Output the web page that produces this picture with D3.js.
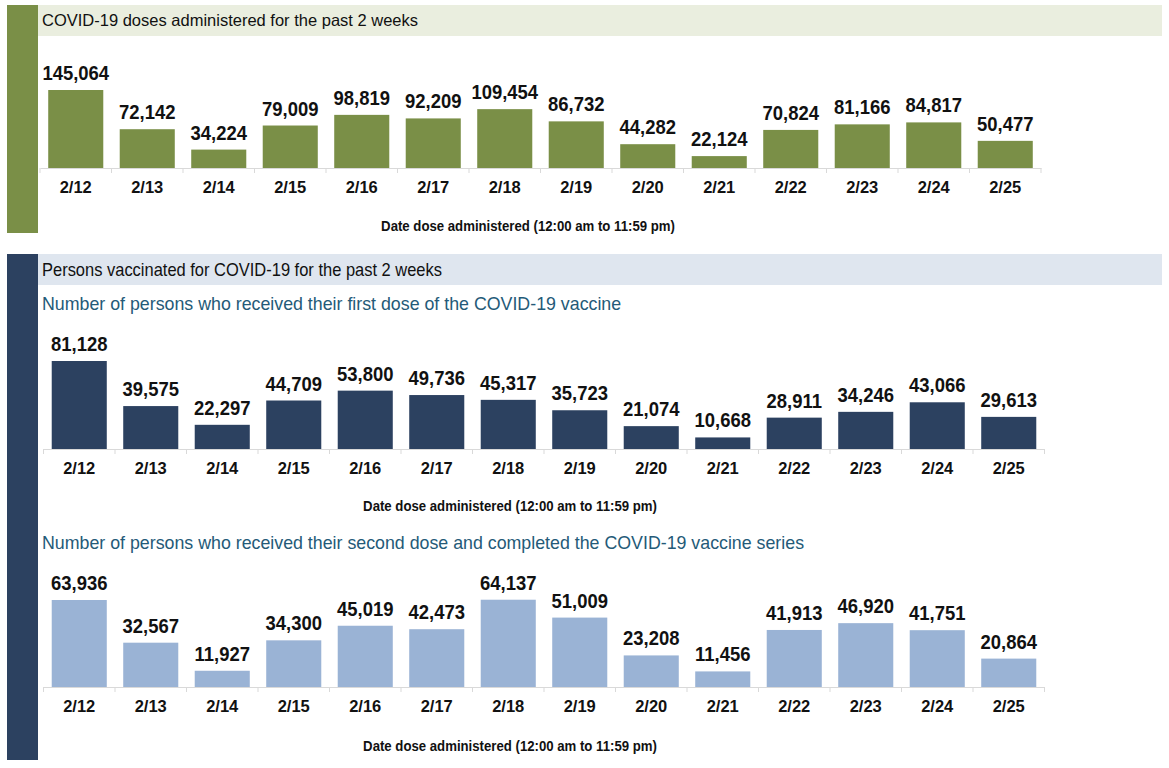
<!DOCTYPE html>
<html><head><meta charset="utf-8">
<script src="https://cdnjs.cloudflare.com/ajax/libs/d3/7.8.5/d3.min.js"></script>
<style>
html,body{margin:0;padding:0;background:#fff;}
svg{display:block;}
</style></head>
<body>
<script>
const dates = ["2/12","2/13","2/14","2/15","2/16","2/17","2/18","2/19","2/20","2/21","2/22","2/23","2/24","2/25"];
const totalDoses = [145064,72142,34224,79009,98819,92209,109454,86732,44282,22124,70824,81166,84817,50477];
const firstDoses = [81128,39575,22297,44709,53800,49736,45317,35723,21074,10668,28911,34246,43066,29613];
const secondDoses = [63936,32567,11927,34300,45019,42473,64137,51009,23208,11456,41913,46920,41751,20864];
const header1 = "COVID-19 doses administered for the past 2 weeks";
const header2 = "Persons vaccinated for COVID-19 for the past 2 weeks";
const sub1 = "Number of persons who received their first dose of the COVID-19 vaccine";
const sub2 = "Number of persons who received their second dose and completed the COVID-19 vaccine series";
const axisTitle = "Date dose administered (12:00 am to 11:59 pm)";

const W = 1169, H = 768;
const svg = d3.select("body").append("svg").attr("width", W).attr("height", H);
const FONT = "Liberation Sans, Arial, sans-serif";

// Section bands and headers
svg.append("rect").attr("x",7).attr("y",5).attr("width",31).attr("height",228).attr("fill","#7a8f47");
svg.append("rect").attr("x",38).attr("y",5).attr("width",1124).attr("height",31).attr("fill","#eaeedf");
svg.append("text").attr("x",42).attr("y",26).text(header1)
  .attr("font-family",FONT).attr("font-size",16.5).attr("fill","#111");

svg.append("rect").attr("x",7).attr("y",254).attr("width",31).attr("height",506).attr("fill","#2c4160");
svg.append("rect").attr("x",38).attr("y",254).attr("width",1124).attr("height",31).attr("fill","#dfe6ef");
svg.append("text").attr("transform","translate(42,276) scale(0.915,1)").text(header2)
  .attr("font-family",FONT).attr("font-size",18).attr("fill","#111");

const subStyle = s => s.attr("font-family",FONT).attr("font-size",17.8).attr("fill","#245a78");
svg.append("text").attr("x",42).attr("y",310).text(sub1).call(subStyle);
svg.append("text").attr("x",42).attr("y",549).text(sub2).call(subStyle);

function drawChart(values, cfg) {
  const g = svg.append("g");
  const x = d3.scaleBand().domain(dates).range([cfg.x0, cfg.x1]).paddingInner(0.23).paddingOuter(0.115);
  const y = d3.scaleLinear().domain([0, cfg.refValue]).range([cfg.base, cfg.refTop]);
  g.selectAll("rect.bar").data(values).join("rect").attr("class","bar")
    .attr("x",(d,i)=>x(dates[i])).attr("width",x.bandwidth())
    .attr("y",d=>y(d)).attr("height",d=>y(0)-y(d)).attr("fill",cfg.color);
  g.selectAll("text.val").data(values).join("text").attr("class","val")
    .attr("transform",(d,i)=>`translate(${x(dates[i])+x.bandwidth()/2},${y(d)-10}) scale(0.9,1)`)
    .attr("text-anchor","middle").attr("font-family",FONT)
    .attr("font-weight","bold").attr("font-size",20.5).attr("fill","#111")
    .text(d=>d3.format(",")(d));
  const ax = g.append("g").attr("transform",`translate(0,${cfg.base})`)
    .call(d3.axisBottom(x).tickSize(0).tickPadding(13));
  ax.select(".domain").attr("stroke","#d9d9d9").attr("stroke-width",1.2);
  ax.selectAll(".tick text").attr("font-family",FONT)
    .attr("font-weight","bold").attr("font-size",16.5).attr("fill","#111");
  const step = x.step(), off = (step - x.bandwidth())/2;
  const bounds = dates.map(d => x(d) - off).concat([x(dates[dates.length-1]) + x.bandwidth() + off]);
  g.selectAll("line.bt").data(bounds).join("line").attr("class","bt")
    .attr("x1",d=>d).attr("x2",d=>d).attr("y1",cfg.base).attr("y2",cfg.base+5)
    .attr("stroke","#d9d9d9").attr("stroke-width",1);
  g.append("text").attr("transform",`translate(${cfg.titleX},${cfg.titleY}) scale(0.88,1)`)
    .attr("text-anchor","middle")
    .attr("font-family",FONT).attr("font-weight","bold")
    .attr("font-size",15).attr("fill","#111").text(axisTitle);
}

drawChart(totalDoses, {x0:40, x1:1041, base:168, refValue:145064, refTop:90, color:"#7a8f47", titleX:528, titleY:231});
drawChart(firstDoses, {x0:43.5, x1:1044.5, base:449, refValue:81128, refTop:361, color:"#2c4160", titleX:510, titleY:511});
drawChart(secondDoses, {x0:43.5, x1:1044.5, base:687, refValue:63936, refTop:600, color:"#9ab3d5", titleX:510, titleY:751});
</script>
</body></html>
